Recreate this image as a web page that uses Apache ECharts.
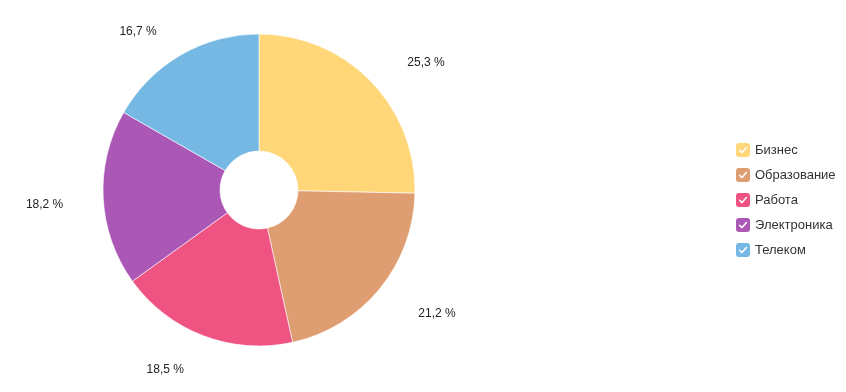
<!DOCTYPE html>
<html><head><meta charset="utf-8">
<script src="https://cdn.jsdelivr.net/npm/echarts@6/dist/echarts.min.js"></script>
<style>html,body{margin:0;padding:0;background:#fff}#c{width:846px;height:392px}</style>
</head><body><div id="c"></div>
<script>
const categories = ['Бизнес', 'Образование', 'Работа', 'Электроника', 'Телеком'];
const values = [25.3, 21.2, 18.5, 18.2, 16.7];
const colors = ['#FFD778', '#DF9E72', '#EF5381', '#AB57B6', '#75B8E3'];

function checkIcon(color) {
  const svg = "<svg xmlns='http://www.w3.org/2000/svg' width='28' height='28' viewBox='0 0 14 14'>" +
    "<rect x='0' y='0' width='14' height='14' rx='3' ry='3' fill='" + color + "'/>" +
    "<path d='M3.6 7.3 L6 9.6 L10.4 4.6' stroke='#ffffff' stroke-width='1.5' fill='none' stroke-linecap='round' stroke-linejoin='round'/></svg>";
  return 'image://data:image/svg+xml;charset=utf-8,' + encodeURIComponent(svg);
}

const chart = echarts.init(document.getElementById('c'), null, {renderer: 'canvas'});
chart.setOption({
  animation: false,
  color: colors,
  legend: {
    orient: 'vertical',
    left: 731,
    top: 138,
    itemWidth: 14,
    itemHeight: 14,
    itemGap: 11,
    textStyle: {fontFamily: 'Liberation Sans, Arial, sans-serif', fontSize: 13, color: '#333'},
    data: categories.map((n, i) => ({name: n, icon: checkIcon(colors[i])}))
  },
  series: [{
    type: 'pie',
    center: [259, 190],
    radius: [39, 156],
    startAngle: 90,
    clockwise: true,
    avoidLabelOverlap: false,
    itemStyle: {borderColor: '#fff', borderWidth: 0.6},
    label: {
      show: true,
      position: 'outside',
      fontFamily: 'Liberation Sans, Arial, sans-serif',
      fontSize: 12,
      color: '#222',
      padding: [0, 0, 0, 6],
      formatter: p => '{s|}\n{t|' + p.value.toFixed(1).replace('.', ',') + ' %}',
      rich: {
        s: {lineHeight: 9, fontSize: 1},
        t: {lineHeight: 14, fontSize: 12, color: '#222', fontFamily: 'Liberation Sans, Arial, sans-serif'}
      }
    },
    labelLine: {show: false, length: 32, length2: 3},
    emphasis: {disabled: true},
    data: categories.map((n, i) => ({name: n, value: values[i]}))
  }]
});
</script></body></html>
